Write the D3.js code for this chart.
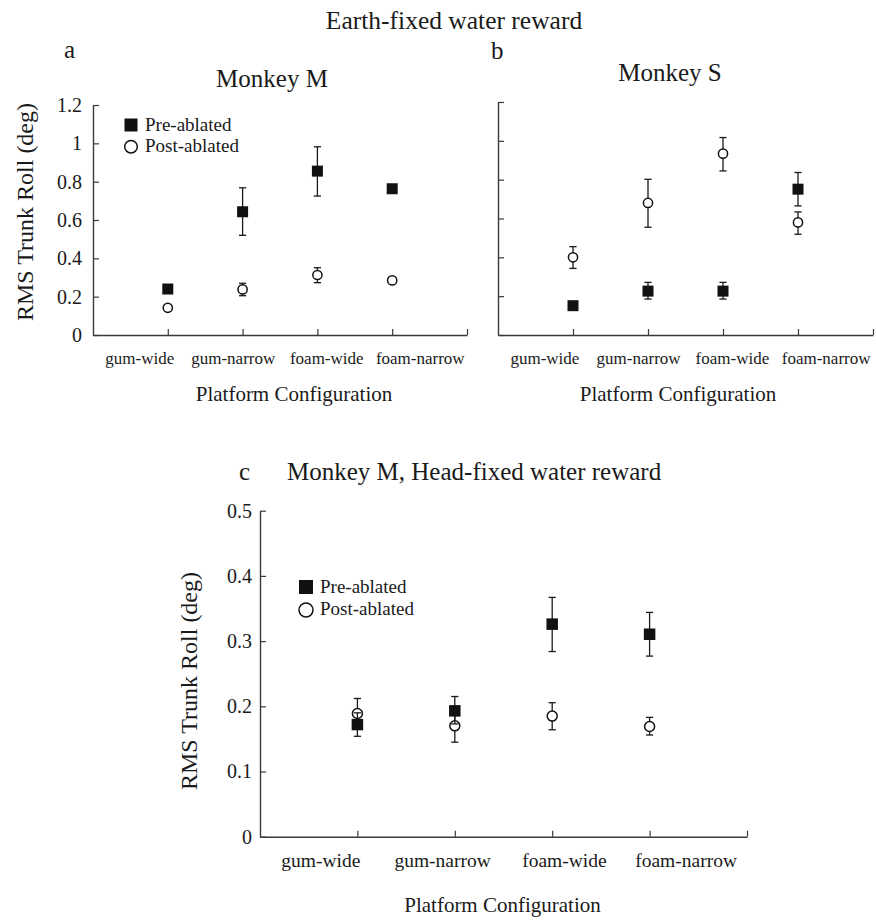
<!DOCTYPE html>
<html><head><meta charset="utf-8">
<script src="https://cdn.jsdelivr.net/npm/d3@7"></script>
<style>
body{margin:0;background:#fff}
text{font-family:"Liberation Serif","Times New Roman",serif;fill:#1a1a1a}
</style>
</head><body>
<svg id="chart" width="876" height="920"></svg>
<script>
// ---------------- data ----------------
const categories = ["gum-wide", "gum-narrow", "foam-wide", "foam-narrow"];
const seriesNames = ["Pre-ablated", "Post-ablated"];

// Panel a: Monkey M, earth-fixed
const aPre    = [0.24, 0.643, 0.855, 0.763];
const aPreLo  = [null, 0.52, 0.725, null];
const aPreHi  = [null, 0.768, 0.982, null];
const aPost   = [0.142, 0.238, 0.313, 0.285];
const aPostLo = [null, 0.205, 0.273, null];
const aPostHi = [null, 0.27, 0.351, null];

// Panel b: Monkey S, earth-fixed
const bPre    = [0.151, 0.226, 0.226, 0.751];
const bPreLo  = [null, 0.185, 0.185, 0.665];
const bPreHi  = [null, 0.271, 0.271, 0.837];
const bPost   = [0.40, 0.68, 0.934, 0.58];
const bPostLo = [0.343, 0.555, 0.845, 0.519];
const bPostHi = [0.455, 0.802, 1.017, 0.634];

// Panel c: Monkey M, head-fixed
const cPre    = [0.172, 0.193, 0.326, 0.3105];
const cPreLo  = [0.154, 0.173, 0.284, 0.277];
const cPreHi  = [0.19, 0.215, 0.367, 0.344];
const cPost   = [0.189, 0.17, 0.185, 0.169];
const cPostLo = [0.17, 0.145, 0.164, 0.156];
const cPostHi = [0.212, 0.19, 0.2055, 0.183];

const yTicksAB = [0, 0.2, 0.4, 0.6, 0.8, 1, 1.2];
const yTicksC  = [0, 0.1, 0.2, 0.3, 0.4, 0.5];

// ---------------- drawing ----------------
const svg = d3.select("#chart");
const INK = "#1a1a1a", AX = "#3a3a3a";

function txt(x, y, s, size, anchor) {
  return svg.append("text").attr("x", x).attr("y", y).attr("font-size", size)
    .attr("text-anchor", anchor || "start").text(s);
}

function drawPanel(cfg) {
  const n = categories.length;
  const x = d3.scaleLinear().domain([0, n + 1]).range(cfg.xr);
  const y = d3.scaleLinear().domain([0, cfg.ymax]).range(cfg.yr);
  const band = d3.scaleBand().domain(categories).range(cfg.xr);
  const g = svg.append("g");

  // y axis
  const ya = d3.axisLeft(y).tickValues(cfg.yticks).tickSizeInner(-6).tickSizeOuter(0)
    .tickPadding(cfg.tickPad).tickFormat(cfg.showY ? d3.format("~g") : () => "");
  const yg = g.append("g").attr("transform", `translate(${cfg.xr[0]},0)`).call(ya);
  yg.select(".domain").attr("stroke", AX).attr("stroke-width", 1.4);
  yg.selectAll(".tick line").attr("stroke", AX).attr("stroke-width", 1.2);
  yg.selectAll(".tick text").attr("font-size", cfg.yFont).attr("fill", INK)
    .attr("font-family", '"Liberation Serif","Times New Roman",serif');

  // x axis (tick marks at categories and at the end)
  const xa = d3.axisBottom(x).tickValues(d3.range(1, n + 2)).tickSizeInner(-6).tickSizeOuter(0)
    .tickFormat(() => "");
  const xg = g.append("g").attr("transform", `translate(0,${cfg.yr[0]})`).call(xa);
  xg.select(".domain").attr("stroke", AX).attr("stroke-width", 1.4);
  xg.selectAll(".tick line").attr("stroke", AX).attr("stroke-width", 1.2);

  // category labels
  g.selectAll(".clab").data(categories).join("text")
    .attr("x", d => band(d) + band.bandwidth() / 2)
    .attr("y", cfg.labY).attr("text-anchor", "middle").attr("font-size", cfg.labFont)
    .text(d => d);

  // series (post first, pre on top)
  const series = [
    {v: cfg.post, lo: cfg.postLo, hi: cfg.postHi, type: "circle"},
    {v: cfg.pre,  lo: cfg.preLo,  hi: cfg.preHi,  type: "square"}
  ];
  series.forEach(s => {
    const pts = s.v.map((v, i) => ({i, v, lo: s.lo[i], hi: s.hi[i]}));
    const eb = pts.filter(p => p.lo != null);
    const cw = 3.6;
    g.selectAll(null).data(eb).join("line")
      .attr("x1", p => x(p.i + 1)).attr("x2", p => x(p.i + 1))
      .attr("y1", p => y(p.lo)).attr("y2", p => y(p.hi))
      .attr("stroke", INK).attr("stroke-width", 1.3);
    ["lo", "hi"].forEach(k => {
      g.selectAll(null).data(eb).join("line")
        .attr("x1", p => x(p.i + 1) - cw).attr("x2", p => x(p.i + 1) + cw)
        .attr("y1", p => y(p[k])).attr("y2", p => y(p[k]))
        .attr("stroke", INK).attr("stroke-width", 1.3);
    });
    if (s.type === "square") {
      const sz = cfg.sq;
      g.selectAll(null).data(pts).join("rect")
        .attr("x", p => x(p.i + 1) - sz / 2).attr("y", p => y(p.v) - sz / 2)
        .attr("width", sz).attr("height", sz).attr("fill", "#111");
    } else {
      g.selectAll(null).data(pts).join("circle")
        .attr("cx", p => x(p.i + 1)).attr("cy", p => y(p.v)).attr("r", cfg.cr)
        .attr("fill", "#fff").attr("stroke", "#111").attr("stroke-width", 1.5);
    }
  });

  // legend
  if (cfg.legend) {
    const L = cfg.legend;
    svg.append("rect").attr("x", L.x - L.sq / 2).attr("y", L.y1 - L.sq / 2)
      .attr("width", L.sq).attr("height", L.sq).attr("fill", "#111");
    svg.append("circle").attr("cx", L.x).attr("cy", L.y2).attr("r", L.cr)
      .attr("fill", "#fff").attr("stroke", "#111").attr("stroke-width", 1.5);
    txt(L.tx, L.y1 + 6, seriesNames[0], L.font);
    txt(L.tx, L.y2 + 5, seriesNames[1], L.font);
  }

  // axis titles
  txt(cfg.xtX, cfg.xtY, "Platform Configuration", cfg.xtFont, "middle");
  if (cfg.ytX != null) {
    svg.append("text").attr("transform", `translate(${cfg.ytX},${cfg.ytY}) rotate(-90)`)
      .attr("text-anchor", "middle").attr("font-size", cfg.ytFont).text("RMS Trunk Roll (deg)");
  }
}

// panel a
drawPanel({
  xr: [93, 467], yr: [335, 105], ymax: 1.2, yticks: yTicksAB, showY: true, tickPad: 11, yFont: 20,
  pre: aPre, preLo: aPreLo, preHi: aPreHi, post: aPost, postLo: aPostLo, postHi: aPostHi,
  labY: 364, labFont: 17, sq: 11, cr: 4.6,
  legend: {x: 131, y1: 125, y2: 146.7, sq: 13, cr: 6.3, tx: 145, font: 19},
  xtX: 294, xtY: 401, xtFont: 21, ytX: 33, ytY: 212, ytFont: 24
});
// panel b
drawPanel({
  xr: [498, 873], yr: [335, 102], ymax: 1.2, yticks: yTicksAB, showY: false, tickPad: 11, yFont: 20,
  pre: bPre, preLo: bPreLo, preHi: bPreHi, post: bPost, postLo: bPostLo, postHi: bPostHi,
  labY: 364, labFont: 17, sq: 11, cr: 4.6,
  xtX: 678, xtY: 401, xtFont: 21, ytX: null
});
// panel c
drawPanel({
  xr: [260, 747], yr: [836.7, 510.7], ymax: 0.5, yticks: yTicksC, showY: true, tickPad: 8, yFont: 20,
  pre: cPre, preLo: cPreLo, preHi: cPreHi, post: cPost, postLo: cPostLo, postHi: cPostHi,
  labY: 866.5, labFont: 19.5, sq: 11.5, cr: 5,
  legend: {x: 306, y1: 587, y2: 610, sq: 14, cr: 7, tx: 320, font: 19},
  xtX: 502.5, xtY: 911.5, xtFont: 21, ytX: 197, ytY: 681, ytFont: 24
});

// titles
txt(454, 29, "Earth-fixed water reward", 25.5, "middle");
txt(64, 58, "a", 25);
txt(491, 59, "b", 25);
txt(272, 87, "Monkey M", 25, "middle");
txt(670, 81, "Monkey S", 25, "middle");
txt(239, 480, "c", 25);
txt(287, 480, "Monkey M, Head-fixed water reward", 25);
</script>
</body></html>
